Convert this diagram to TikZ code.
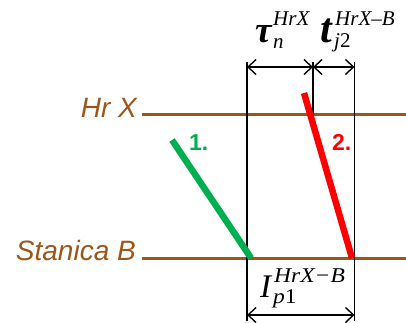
\documentclass[tikz,border=0pt]{standalone}
\usepackage{fontspec}
\setmainfont{Liberation Sans}
\newfontfamily\tnr{Liberation Serif}
\newfontfamily\tnrwide[FakeStretch=1.12]{Liberation Serif}
\usetikzlibrary{arrows.meta}
\definecolor{brownline}{RGB}{156,86,26}
\definecolor{pgreen}{RGB}{0,176,80}
\definecolor{pred}{RGB}{255,0,0}
\tikzset{
  track/.style={draw=brownline, line width=3pt},
  stationlabel/.style={text=brownline, font=\fontsize{28}{28}\selectfont\itshape, anchor=base east, inner sep=0pt},
  trainline/.style={line width=6.5pt},
  trainlabel/.style={font=\fontsize{23}{23}\selectfont\bfseries, anchor=base west, inner sep=0pt},
  guide/.style={draw=black, line width=1.4pt},
  dim/.style={draw=black, line width=1.4pt, {Straight Barb[length=8pt,width=15pt,line width=1.4pt]}-{Straight Barb[length=8pt,width=15pt,line width=1.4pt]}},
  symtau/.style={inner sep=0pt, anchor=base west, font=\tnr\fontsize{37}{37}\selectfont\bfseries\itshape},
  symt/.style={inner sep=0pt, anchor=base west, font=\tnr\fontsize{42}{42}\selectfont\bfseries\itshape},
  symI/.style={inner sep=0pt, anchor=base west, font=\tnr\fontsize{33}{33}\selectfont\itshape},
  supsmall/.style={inner sep=0pt, anchor=base west, font=\tnr\fontsize{21}{21}\selectfont\itshape},
  supbot/.style={inner sep=0pt, anchor=base west, font=\tnrwide\fontsize{21}{21}\selectfont\itshape}
}
\begin{document}
\begin{tikzpicture}[x=1pt,y=-1pt]
\useasboundingbox (0,0) rectangle (406,322);
% station lines
\coordinate (hxl) at (142,114.5);
\coordinate (hxr) at (406,114.5);
\coordinate (sbl) at (142,258);
\coordinate (sbr) at (406,258);
\draw[track] (hxl) -- (hxr);
\draw[track] (sbl) -- (sbr);
\node[stationlabel] (lhx) at (137,117) {Hr X};
\node[stationlabel] (lsb) at (136,260) {Stanica B};
% guide lines
\coordinate (vlt) at (247,62);
\coordinate (vlb) at (247,321);
\coordinate (vmt) at (313,62);
\coordinate (vmb) at (313,114.5);
\coordinate (vrt) at (354.5,62);
\coordinate (vrb) at (354.5,321);
\draw[guide] (vlt) -- (vlb);
\draw[guide] (vmt) -- (vmb);
\draw[guide] (vrt) -- (vrb);
% dimension arrows
\coordinate (tl) at (247,67);
\coordinate (tm) at (313,67);
\coordinate (tr) at (354.5,67);
\coordinate (bl) at (247,315);
\coordinate (br) at (354.5,315);
\draw[dim] (tl) -- (tm);
\draw[dim] (tm) -- (tr);
\draw[dim] (bl) -- (br);
% trains
\coordinate (g1) at (172,140);
\coordinate (g2) at (251,258);
\coordinate (r1) at (304,93);
\coordinate (r2) at (352,258);
\draw[trainline, pgreen] (g1) -- (g2);
\draw[trainline, pred] (r1) -- (r2);
\node[trainlabel, text=pgreen] (n1) at (189,150) {1.};
\node[trainlabel, text=pred] (n2) at (332,150) {2.};
% top labels
\node[symtau] (tau) at (255,42) {τ};
\node[supsmall] (tausup) at (273,25) {HrX};
\node[supsmall] (tausub) at (273,48) {n};
\node[symt] (tt) at (320,42) {t};
\node[supsmall] (tsup) at (335,25) {HrX–B};
\node[supsmall] (tsub) at (334,47) {j\textup{2}};
% bottom label
\node[symI] (ii) at (260,297) {I};
\node[supbot] (isup) at (274,282) {HrX−B};
\node[supbot] (isub) at (273,303) {p\textup{1}};
\end{tikzpicture}
\end{document}
